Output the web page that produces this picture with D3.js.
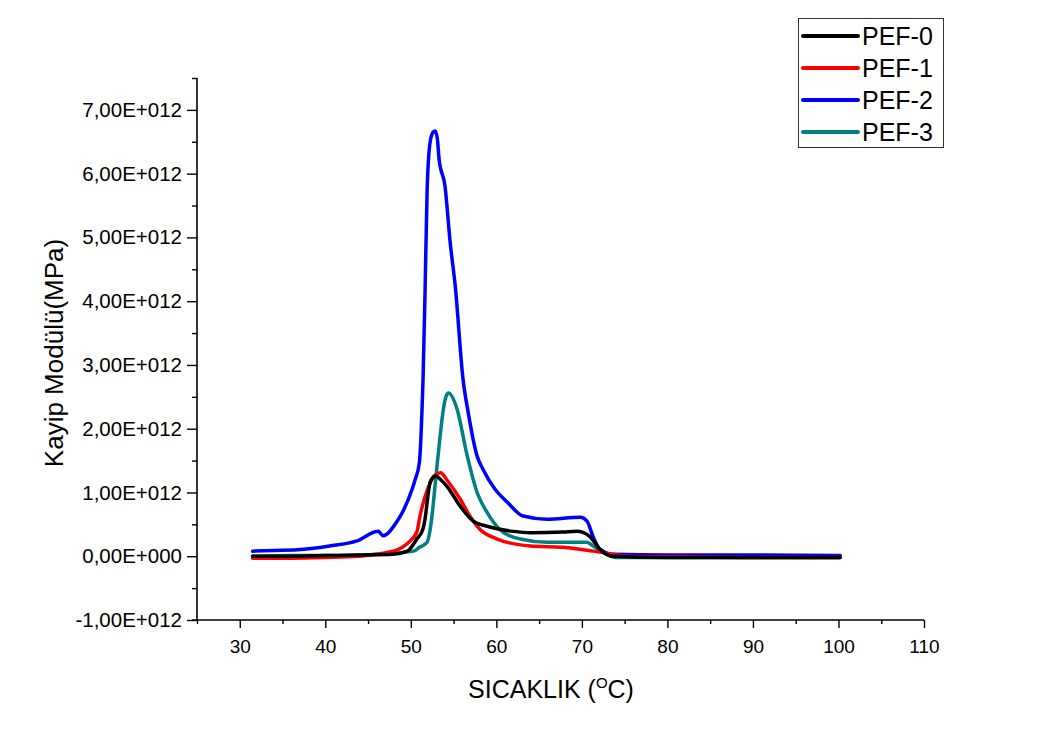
<!DOCTYPE html>
<html>
<head>
<meta charset="utf-8">
<script src="https://cdn.jsdelivr.net/npm/d3@7"></script>
<style>
  html, body { margin: 0; padding: 0; background: #fff; }
  svg { display: block; font-family: "Liberation Sans", Arial, sans-serif; }
</style>
</head>
<body>
<svg id="chart" width="1061" height="749"></svg>
<script>
// Loss modulus vs temperature for four PEF samples (values in units of 1E+012 MPa)
const seriesNames = ["PEF-0", "PEF-1", "PEF-2", "PEF-3"];
const seriesColors = ["#000000", "#ff0000", "#0000ff", "#008080"];

const pef0Temp = [31.5, 36, 40, 44, 47.9, 49.6, 50.7, 51.4, 51.7, 52.0, 52.3, 52.9, 53.5, 54.2, 55.8, 57.3, 58.9, 62.0, 64.0, 67.8, 69.4, 70.2, 71.0, 72.1, 73.6, 80, 90, 100.2];
const pef0Val  = [0.0, 0.0, 0.01, 0.02, 0.03, 0.08, 0.27, 0.42, 0.62, 0.95, 1.18, 1.26, 1.2, 1.1, 0.78, 0.55, 0.47, 0.39, 0.37, 0.38, 0.39, 0.37, 0.3, 0.11, 0.0, -0.02, -0.02, -0.02];

const pef1Temp = [31.5, 36, 40, 44, 46, 47.9, 48.4, 49.6, 50.7, 51.1, 51.7, 52.3, 52.8, 53.5, 54.2, 55.8, 56.9, 58.1, 60.1, 64.0, 67.8, 71.3, 73.6, 75, 80, 90, 100.2];
const pef1Val  = [-0.03, -0.03, -0.02, 0.0, 0.03, 0.08, 0.1, 0.2, 0.38, 0.65, 0.95, 1.16, 1.27, 1.31, 1.2, 0.89, 0.63, 0.42, 0.27, 0.16, 0.14, 0.08, 0.03, 0.0, -0.01, -0.02, -0.02];

const pef2Temp = [31.5, 34, 36.7, 40.5, 43.7, 46.2, 46.75, 48.4, 49.1, 50.15, 50.5, 51.0, 51.3, 51.43, 51.67, 51.9, 52.25, 52.6, 52.84, 53.1, 53.3, 54.0, 54.6, 55.2, 56.1, 56.7, 57.75, 58.45, 59.85, 61.26, 63.13, 65.94, 69.8, 70.6, 71.3, 72.1, 73.65, 80, 90, 100.2];
const pef2Val  = [0.08, 0.09, 0.1, 0.16, 0.24, 0.39, 0.32, 0.55, 0.71, 1.05, 1.2, 1.47, 2.26, 2.78, 4.19, 5.71, 6.49, 6.65, 6.67, 6.55, 6.23, 5.8, 4.92, 4.23, 2.78, 2.26, 1.57, 1.36, 1.05, 0.85, 0.63, 0.58, 0.61, 0.55, 0.31, 0.11, 0.03, 0.02, 0.02, 0.01];

const pef3Temp = [31.5, 36, 40, 44.4, 47.9, 50.3, 51.0, 51.9, 52.4, 52.9, 53.4, 53.8, 54.1, 54.4, 55.4, 56.6, 57.75, 58.9, 60.4, 62.8, 65.9, 70.6, 71.3, 72.95, 74.1, 80, 90, 100.2];
const pef3Val  = [0.0, 0.01, 0.01, 0.02, 0.05, 0.08, 0.14, 0.22, 0.55, 1.2, 1.85, 2.3, 2.5, 2.56, 2.31, 1.57, 1.0, 0.69, 0.42, 0.27, 0.22, 0.22, 0.16, 0.03, -0.02, -0.02, -0.02, -0.02];

const seriesTemps = [pef0Temp, pef1Temp, pef2Temp, pef3Temp];
const seriesVals = [pef0Val, pef1Val, pef2Val, pef3Val];

const xMajorTicks = [30, 40, 50, 60, 70, 80, 90, 100, 110];
const yMajorTicks = [-1, 0, 1, 2, 3, 4, 5, 6, 7];
const yTickLabels = ["-1,00E+012", "0,00E+000", "1,00E+012", "2,00E+012", "3,00E+012", "4,00E+012", "5,00E+012", "6,00E+012", "7,00E+012"];

const svg = d3.select("#chart");

const x = d3.scaleLinear().domain([25, 110]).range([197, 924]);
const y = d3.scaleLinear().domain([-1, 7.5]).range([620, 78]);

// x axis: major ticks every 10, minor every 5
const xAxisG = svg.append("g").attr("transform", `translate(0,${y(-1)})`);
xAxisG.call(d3.axisBottom(x).tickValues(d3.range(25, 111, 5)).tickSize(4).tickFormat(""));
xAxisG.call(g => g.selectAll(".tick line").filter(d => d % 10 === 0).attr("y2", 8));
xAxisG.select(".domain").attr("d", `M${x(25)},0H${x(110)}`);

const xLabels = svg.append("g").attr("transform", `translate(0,${y(-1)})`)
  .call(d3.axisBottom(x).tickValues(xMajorTicks).tickSize(0).tickPadding(20).tickFormat(d3.format("d")));
xLabels.select(".domain").remove();
xLabels.selectAll(".tick text").style("font-size", "19px");

// y axis: major ticks every 1, minor every 0.5
const yAxisG = svg.append("g").attr("transform", `translate(${x(25)},0)`);
yAxisG.call(d3.axisLeft(y).tickValues(d3.range(-1, 7.51, 0.5)).tickSize(5).tickFormat(""));
yAxisG.call(g => g.selectAll(".tick line").filter(d => Math.abs(d - Math.round(d)) < 1e-9).attr("x2", -10));
yAxisG.select(".domain").attr("d", `M0,${y(7.5)}V${y(-1)}`);

const yLabels = svg.append("g").attr("transform", `translate(${x(25)},0)`)
  .call(d3.axisLeft(y).tickValues(yMajorTicks).tickSize(0).tickPadding(15)
    .tickFormat((d, i) => yTickLabels[i]));
yLabels.select(".domain").remove();
yLabels.selectAll(".tick text").style("font-size", "20.5px");

svg.selectAll(".domain").attr("stroke", "#000").attr("stroke-width", 1.6);
svg.selectAll(".tick line").attr("stroke", "#000").attr("stroke-width", 1.4);
svg.selectAll(".tick text").attr("fill", "#000")
  .style("font-family", "'Liberation Sans', Arial, sans-serif");

// a short stub across the bottom-left corner
svg.append("line").attr("x1", x(25) - 5).attr("x2", x(25)).attr("y1", y(-1)).attr("y2", y(-1))
  .attr("stroke", "#000").attr("stroke-width", 1.4);

// axis titles
svg.append("text")
  .attr("transform", `translate(63,${(y(7.5) + y(-1)) / 2 + 4}) rotate(-90)`)
  .attr("text-anchor", "middle").style("font-size", "26px").attr("fill", "#000")
  .text("Kayip Modülü(MPa)");

const xt = svg.append("text").attr("x", 551).attr("y", 698)
  .attr("text-anchor", "middle").style("font-size", "25px").attr("fill", "#000");
xt.append("tspan").text("SICAKLIK (");
xt.append("tspan").attr("dy", -10).style("font-size", "15px").text("O");
xt.append("tspan").attr("dy", 10).text("C)");

// series lines
const line = d3.line().x(d => x(d[0])).y(d => y(d[1])).curve(d3.curveMonotoneX);
const drawOrder = [3, 2, 1, 0];
drawOrder.forEach(i => {
  const pts = seriesTemps[i].map((t, k) => [t, seriesVals[i][k]]);
  svg.append("path").datum(pts)
    .attr("fill", "none").attr("stroke", seriesColors[i])
    .attr("stroke-width", 3.5).attr("stroke-linejoin", "round").attr("stroke-linecap", "round")
    .attr("d", line);
});

// legend
const leg = svg.append("g");
leg.append("rect").attr("x", 798.5).attr("y", 18.5).attr("width", 145).attr("height", 129)
  .attr("fill", "#fff").attr("stroke", "#333").attr("stroke-width", 1);
seriesNames.forEach((name, i) => {
  const cy = 36 + i * 32;
  leg.append("line").attr("x1", 803).attr("x2", 858).attr("y1", cy).attr("y2", cy)
    .attr("stroke", seriesColors[i]).attr("stroke-width", 4).attr("stroke-linecap", "round");
  leg.append("text").attr("x", 862).attr("y", cy + 9).style("font-size", "25px")
    .attr("fill", "#000").text(name);
});
</script>
</body>
</html>
